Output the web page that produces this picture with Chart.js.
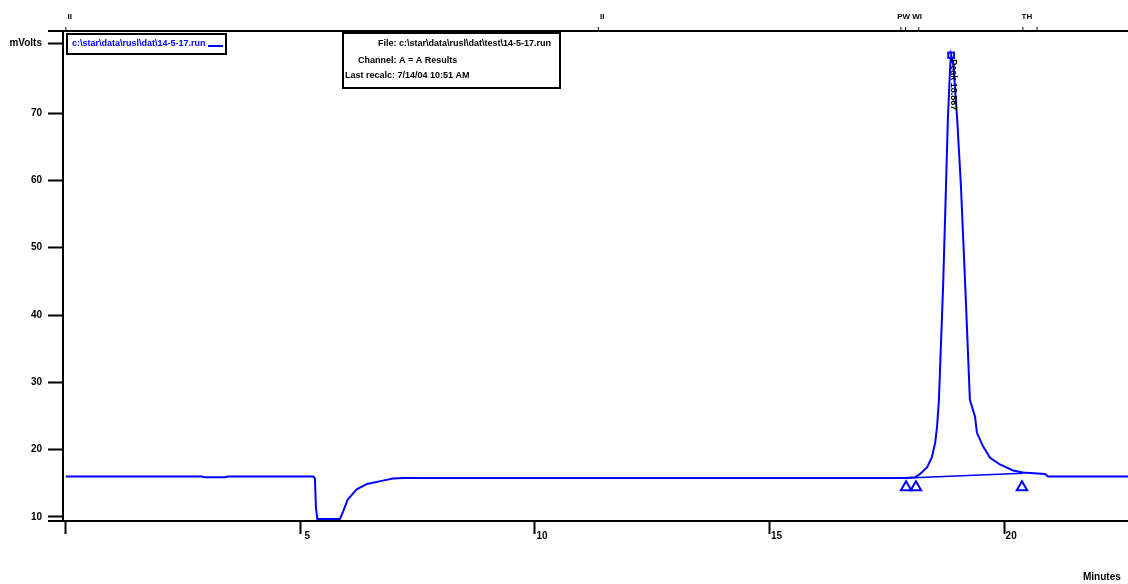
<!DOCTYPE html>
<html>
<head>
<meta charset="utf-8">
<script src="https://cdn.jsdelivr.net/npm/chart.js@4/dist/chart.umd.min.js"></script>
<style>
  body { margin: 0; background: #fff; }
  canvas { display: block; }
</style>
</head>
<body>
<canvas id="chrom" width="1128" height="584"></canvas>
<script>
// detector trace, minutes vs mVolts
var times  = [0, 2.9, 2.95, 3.4, 3.45, 5.28, 5.31, 5.33, 5.36, 5.84, 5.91, 6.01, 6.2, 6.42, 6.76, 6.97, 7.2, 12, 17.9, 18.1, 18.21, 18.36, 18.46, 18.53, 18.57, 18.61, 18.7, 18.76, 18.8, 18.85, 18.87, 18.92, 19.0, 19.08, 19.17, 19.27, 19.38, 19.42, 19.55, 19.7, 19.91, 20.19, 20.4, 20.87, 20.94, 22.7];
var signal = [16.0, 16.0, 15.9, 15.9, 16.0, 16.0, 15.7, 11.5, 9.7, 9.7, 10.8, 12.6, 14.1, 14.9, 15.4, 15.7, 15.8, 15.8, 15.8, 15.9, 16.4, 17.4, 18.9, 21.0, 23.4, 27.4, 44.5, 59.0, 69.0, 77.0, 78.6, 77.0, 69.0, 59.0, 44.5, 27.4, 24.9, 22.5, 20.5, 18.8, 17.8, 16.9, 16.6, 16.4, 16.0, 16.0];

// integration baseline under the peak
var baseTimes  = [17.93, 20.4];
var baseValues = [15.8, 16.5];

// peak start / end markers
var markTimes  = [17.91, 18.12, 20.38];
var markValues = [14.4, 14.4, 14.4];

var peakTime = 18.87;
var peakValue = 78.6;
var peakLabel = "Peak 18.867";

var xTicks = [0, 5, 10, 15, 20];
var xTickLabels = ["", "5", "10", "15", "20"];
var yTicks = [10, 20, 30, 40, 50, 60, 70];
var yUnitValue = 80.4;
var yUnitLabel = "mVolts";

var eventTimes  = [0, 11.35, 17.8, 17.9, 18.18, 20.4, 20.7];
var eventLabels = ["II", "II", "", "PW WI", "", "TH", ""];

var fileName = "c:\\star\\data\\rusl\\dat\\14-5-17.run";
var infoLines = ["File: c:\\star\\data\\rusl\\dat\\test\\14-5-17.run", "Channel: A = A Results", "Last recalc: 7/14/04 10:51 AM"];

var blue = "#0000ff";
var font = "bold 10px 'Liberation Sans', Arial, sans-serif";

function pts(xs, ys) {
  return xs.map(function(x, i) { return { x: x, y: ys[i] }; });
}

var decor = {
  id: "decor",
  afterDraw: function(chart) {
    var c = chart.ctx, xs = chart.scales.x, ys = chart.scales.y, a = chart.chartArea;
    c.save();
    c.strokeStyle = "#000";
    c.fillStyle = "#000";
    c.lineWidth = 2;
    // top line and the left stub of the x axis
    c.beginPath();
    c.moveTo(48, a.top); c.lineTo(a.right, a.top);
    c.moveTo(48, a.bottom); c.lineTo(a.left, a.bottom);
    c.stroke();

    // event ticks and labels on top line
    c.lineWidth = 1;
    c.font = "bold 8px 'Liberation Sans', Arial, sans-serif";
    c.textAlign = "center";
    eventTimes.forEach(function(t, i) {
      var px = xs.getPixelForValue(t);
      c.beginPath(); c.moveTo(px, a.top - 4); c.lineTo(px, a.top); c.stroke();
      if (eventLabels[i]) c.fillText(eventLabels[i], px + 4, a.top - 12);
    });

    // legend box
    c.lineWidth = 2;
    c.strokeRect(67, 34, 159, 20);
    c.font = "bold 9px 'Liberation Sans', Arial, sans-serif";
    c.textAlign = "left";
    c.textBaseline = "middle";
    c.fillStyle = blue;
    c.fillText(fileName, 72, 44);
    c.strokeStyle = blue;
    c.beginPath(); c.moveTo(208, 46); c.lineTo(223, 46); c.stroke();

    // info box
    c.strokeStyle = "#000";
    c.fillStyle = "#000";
    c.strokeRect(343, 33, 217, 55);
    c.fillText(infoLines[0], 378, 44);
    c.fillText(infoLines[1], 358, 61);
    c.fillText(infoLines[2], 345, 76);

    // peak label (vertical)
    c.save();
    c.translate(xs.getPixelForValue(peakTime) + 2, ys.getPixelForValue(peakValue) + 4);
    c.rotate(Math.PI / 2);
    c.font = "bold 9px 'Liberation Sans', Arial, sans-serif";
    c.textAlign = "left";
    c.fillText(peakLabel, 0, 0);
    c.restore();

    // axis title
    c.font = font;
    c.textAlign = "left";
    c.fillText("Minutes", 1083, 577);
    c.restore();
  }
};

new Chart(document.getElementById("chrom"), {
  type: "line",
  data: {
    datasets: [
      { data: pts(times, signal), borderColor: blue, borderWidth: 2, pointRadius: 0, tension: 0, clip: false },
      { data: pts(baseTimes, baseValues), borderColor: blue, borderWidth: 1.5, pointRadius: 0, tension: 0 },
      { data: pts(markTimes, markValues), showLine: false, pointStyle: "triangle", pointRadius: 6,
        pointBorderColor: blue, pointBackgroundColor: "#fff", pointBorderWidth: 2 },
      { data: [{ x: peakTime, y: peakValue }], showLine: false, pointStyle: "rect", pointRadius: 4,
        pointBorderColor: blue, pointBackgroundColor: "#fff", pointBorderWidth: 2 }
    ]
  },
  options: {
    responsive: false,
    devicePixelRatio: 1,
    animation: false,
    layout: { autoPadding: false, padding: { top: 31, right: 0, left: 0, bottom: 0 } },
    plugins: { legend: { display: false }, tooltip: { enabled: false } },
    scales: {
      x: {
        type: "linear",
        min: -0.06,
        max: 22.64,
        afterFit: function(s) { s.height = 63; s.paddingLeft = 0; s.paddingRight = 0; },
        afterBuildTicks: function(s) { s.ticks = xTicks.map(function(v) { return { value: v }; }); },
        border: { display: true, color: "#000", width: 2 },
        grid: { drawOnChartArea: false, tickLength: 13, tickWidth: 2, tickColor: "#000" },
        ticks: {
          color: "#000", font: { size: 10, weight: "bold", family: "'Liberation Sans', Arial, sans-serif" },
          padding: -4, labelOffset: 7, maxRotation: 0, autoSkip: false,
          callback: function(v) { return xTickLabels[xTicks.indexOf(v)]; }
        }
      },
      y: {
        min: 9.4,
        max: 82.2,
        afterFit: function(s) { s.width = 63; s.paddingTop = 0; s.paddingBottom = 0; },
        afterBuildTicks: function(s) {
          s.ticks = yTicks.concat([yUnitValue]).map(function(v) { return { value: v }; });
        },
        border: { display: true, color: "#000", width: 2 },
        grid: { drawOnChartArea: false, tickLength: 15, tickWidth: 2, tickColor: "#000" },
        ticks: {
          color: "#000", font: { size: 10, weight: "bold", family: "'Liberation Sans', Arial, sans-serif" },
          padding: 6, autoSkip: false,
          callback: function(v) { return v === yUnitValue ? yUnitLabel : v; }
        }
      }
    }
  },
  plugins: [decor]
});
</script>
</body>
</html>
